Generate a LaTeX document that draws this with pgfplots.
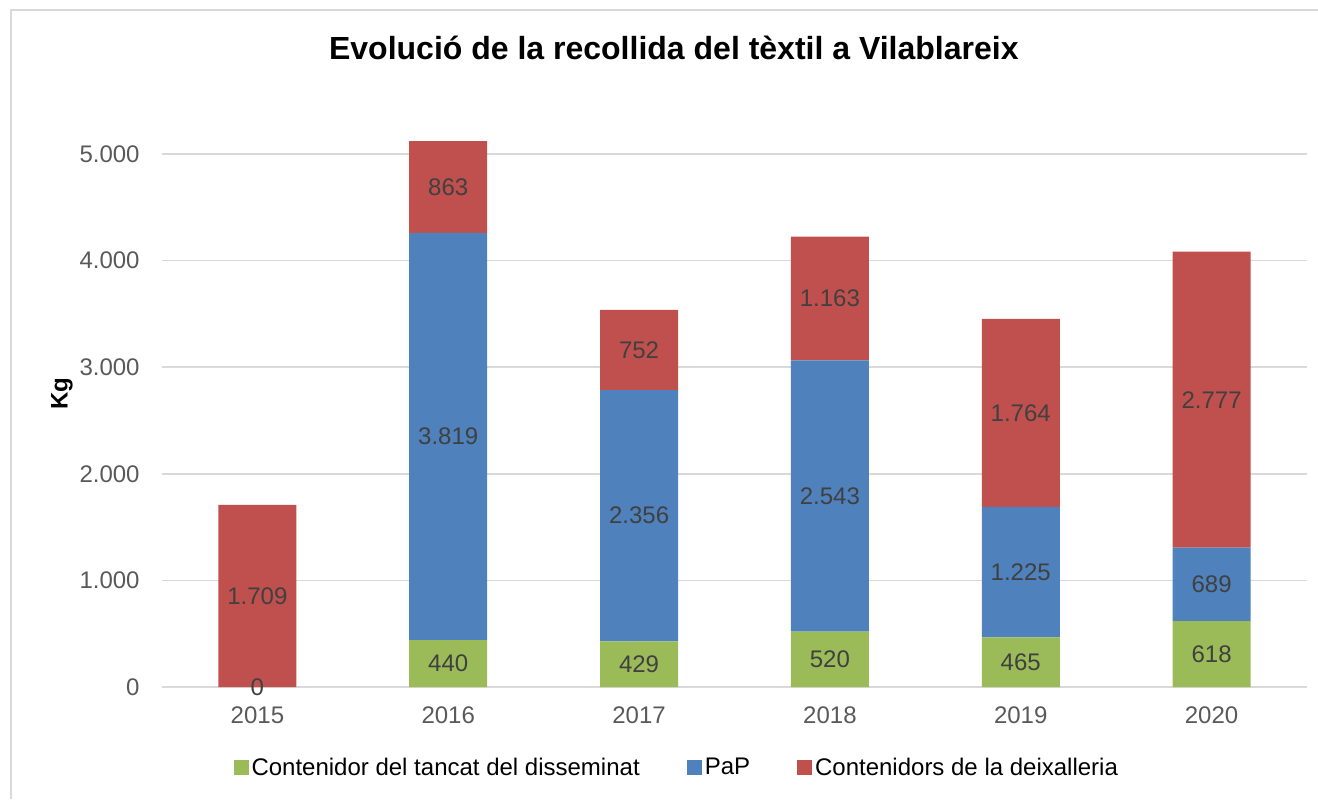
\documentclass[border=0pt]{standalone}
\usepackage{pgfplots}
\pgfplotsset{compat=1.18}
\usepackage{fontspec}
\setmainfont{Liberation Sans}
\definecolor{verd}{HTML}{9BBB59}
\definecolor{blau}{HTML}{4F81BD}
\definecolor{vermell}{HTML}{C0504D}
\definecolor{graella}{HTML}{D9D9D9}
\definecolor{textgris}{HTML}{595959}
\definecolor{etiq}{HTML}{404040}
\begin{document}
\begin{tikzpicture}
\useasboundingbox (-81pt,-56pt) rectangle (578pt,343.5pt);
\draw[graella, line width=0.8pt] (-75.5pt,-56pt) -- (-75.5pt,338.5pt) -- (578pt,338.5pt);
\begin{axis}[
  ybar stacked,
  scale only axis,
  clip=false,
  width=572.5pt,
  height=293.15pt,
  xmin=-0.5, xmax=5.5,
  ymin=0, ymax=5500,
  bar width=39pt,
  xtick={0,1,2,3,4,5},
  xticklabels={2015,2016,2017,2018,2019,2020},
  ytick={0,1000,2000,3000,4000,5000},
  major tick length=0pt,
  axis line style={draw=none},
  ymajorgrids=true,
  grid style={graella, line width=0.75pt},
  /pgf/number format/.cd, 1000 sep={.}, assume math mode=true,
  /pgfplots/.cd,
  ticklabel style={font=\fontsize{12}{14}\selectfont, text=textgris},
  xticklabel style={anchor=center, yshift=-14pt},
  yticklabel style={anchor=east, inner sep=0pt, xshift=-11pt},
  ylabel={Kg},
  every axis y label/.style={at={(axis description cs:0,0.5)}, xshift=-50pt,
    rotate=90, anchor=center, font=\fontsize{12}{14}\selectfont\bfseries},
  title={Evolució de la recollida del tèxtil a Vilablareix},
  title style={at={(0.447,1.07)}, anchor=center,
    font=\fontsize{16}{19}\selectfont\bfseries},
  legend style={at={(0.45,-0.138)}, anchor=center, draw=none, legend columns=-1,
    font=\fontsize{12}{14}\selectfont, nodes={inner xsep=1.5pt},
    /tikz/every odd column/.append style={column sep=0pt},
    /tikz/every even column/.append style={column sep=22pt}},
  legend image code/.code={\fill[#1] (0pt,-3.75pt) rectangle (7.5pt,3.75pt);},
  nodes near coords,
  every node near coord/.append style={anchor=center, text=etiq,
    font=\fontsize{12}{14}\selectfont},
]
\addplot[fill=verd, draw=none] coordinates {(0,0) (1,440) (2,429) (3,520) (4,465) (5,618)};
\addplot[fill=blau, draw=none] coordinates {(0,0) (1,3819) (2,2356) (3,2543) (4,1225) (5,689)};
\addplot[fill=vermell, draw=none] coordinates {(0,1709) (1,863) (2,752) (3,1163) (4,1764) (5,2777)};
\legend{Contenidor del tancat del disseminat, PaP, Contenidors de la deixalleria}
\coordinate (zero2015) at (axis cs:0,0);
\end{axis}
\node[text=etiq, font=\fontsize{12}{14}\selectfont] at (zero2015) {0};
\end{tikzpicture}
\end{document}
